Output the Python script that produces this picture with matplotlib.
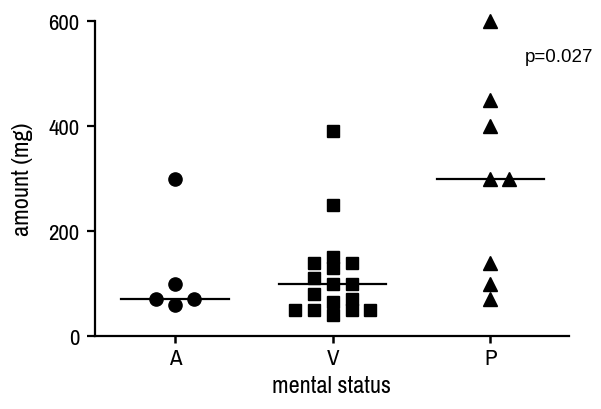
import matplotlib
matplotlib.use("Agg")
import matplotlib.pyplot as plt
import numpy as np

# ---- data ----
categories = ["A", "V", "P"]
values_A = [300, 100, 70, 60, 70]
values_V = [390, 250, 140, 130, 140, 150, 110, 100, 100, 80, 70, 65, 50, 50, 40, 50, 50]
values_P = [600, 450, 400, 300, 300, 140, 100, 70]
y_ticks = [0, 200, 400, 600]
p_text = "p=0.027"
x_label = "mental status"
y_label = "amount (mg)"

plt.rcParams["font.family"] = ["Archivo Narrow", "Liberation Sans", "DejaVu Sans"]
tick_fs, label_fs = 16.5, 17.5

fig = plt.figure(figsize=(6.01, 4.10), dpi=100)
ax = fig.add_axes([95 / 601, 1 - 337 / 410, (569 - 95) / 601, (337 - 22) / 410])

ax.set_xlim(-0.508, 2.5)
ax.set_ylim(0, 600)

# simple Prism-like column scatter: place points on slots next to the centre
def swarm_offsets(vals, thresh=19.0):
    order = np.argsort(vals, kind="stable")
    cand = [0, 1, -1, 2, -2, 3, -3, 4, -4]
    placed = []
    slots = np.zeros(len(vals))
    for i in order:
        v = vals[i]
        for s in cand:
            if all(not (s == ps and abs(v - pv) < thresh) for ps, pv in placed):
                slots[i] = s
                placed.append((s, v))
                break
    return slots

slot_w = 0.12
groups = [values_A, values_V, values_P]
markers = ["o", "s", "^"]
msizes = [9.5, 8.6, 10.5]
for xi, (vals, mk, ms) in enumerate(zip(groups, markers, msizes)):
    vals = np.asarray(vals, dtype=float)
    xs = xi + swarm_offsets(vals) * slot_w
    ax.plot(xs, vals, linestyle="none", marker=mk, markersize=ms,
            color="black", markeredgecolor="black", clip_on=False, zorder=3)
    med = np.median(vals)
    ax.plot([xi - 0.34, xi + 0.34], [med, med], color="black", lw=1.6, zorder=2)

ax.set_xticks(range(len(categories)))
ax.set_xticklabels(categories, fontsize=tick_fs)
ax.set_yticks(y_ticks)
ax.set_yticklabels([str(t) for t in y_ticks], fontsize=tick_fs)

for side in ["top", "right"]:
    ax.spines[side].set_visible(False)
for side in ["left", "bottom"]:
    ax.spines[side].set_linewidth(1.6)
    ax.spines[side].set_color("black")

ax.tick_params(axis="y", direction="out", length=6, width=1.6, pad=5, colors="black")
ax.tick_params(axis="x", direction="out", length=5, width=1.8, pad=4, colors="black")

ax.set_xlabel(x_label, fontsize=label_fs, labelpad=5)
ax.set_ylabel(y_label, fontsize=label_fs, labelpad=11)

ax.text(2.22, 524, p_text, fontsize=13.5, family=["Liberation Sans", "DejaVu Sans"],
        ha="left", va="baseline")

fig.savefig("out.png", dpi=100)
